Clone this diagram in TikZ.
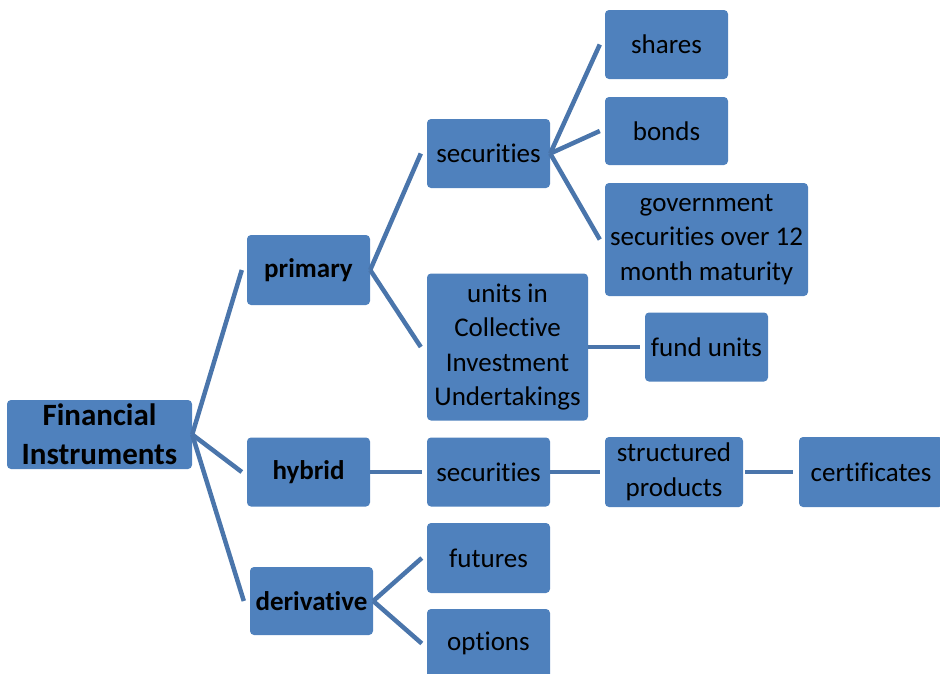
\documentclass[tikz,border=0pt]{standalone}
\usepackage{fontspec}
\setmainfont[Ligatures=NoCommon]{Carlito}
\usetikzlibrary{calc}
\definecolor{boxfill}{HTML}{4F81BD}
\definecolor{linkblue}{HTML}{4A75AB}
\begin{document}
\begin{tikzpicture}[x=1pt,y=-1pt,
  box/.style={fill=boxfill, rounded corners=4pt, inner sep=0pt, align=center,
    font=\fontsize{27}{34.5}\selectfont, text=black},
  head/.style={box, font=\fontsize{27}{34.5}\selectfont\bfseries},
  rootbox/.style={box, font=\fontsize{31}{39}\selectfont\bfseries},
  link/.style={draw=linkblue, line width=4.5pt}]
\useasboundingbox (0,0) rectangle (940,673);
\clip (0,0) rectangle (940,673);

% tree of boxes
\node[rootbox, minimum width=185pt, minimum height=69pt] (root) at (99.5,434.5) {Financial\\Instruments};

\node[head, minimum width=123pt, minimum height=70pt] (primary) at (308.5,270) {primary};
\node[head, minimum width=123pt, minimum height=69pt] (hybrid) at (308.5,472) {hybrid};
\node[head, minimum width=123pt, minimum height=68pt] (deriv) at (311.5,601) {derivative};

\node[box, minimum width=123pt, minimum height=69pt] (sec1) at (488.5,153.5) {securities};
\node[box, minimum width=161pt, minimum height=147pt] (units) at (507.5,347) {units in\\Collective\\Investment\\Undertakings};
\node[box, minimum width=123pt, minimum height=69pt] (sec2) at (488.5,472) {securities};
\node[box, minimum width=123pt, minimum height=70pt] (futures) at (488.5,558) {futures};
\node[box, minimum width=123pt, minimum height=69pt] (options) at (488.5,643.5) {options};

\node[box, minimum width=123pt, minimum height=69pt] (shares) at (666.5,44.5) {shares};
\node[box, minimum width=123pt, minimum height=68pt] (bonds) at (666.5,131) {bonds};
\node[box, minimum width=203pt, minimum height=113pt] (govt) at (706.5,239.5) {government\\securities over 12\\month maturity};
\node[box, minimum width=123pt, minimum height=69pt] (fund) at (706.5,347) {fund units};
\node[box, minimum width=138pt, minimum height=70pt] (struct) at (674,472) {structured\\products};
\node[box, minimum width=144pt, minimum height=70pt] (cert) at (871,472) {certificates};

% connectors
\draw[link] (root.east) -- ($(primary.west)+(-5,0)$);
\draw[link] (root.east) -- ($(hybrid.west)+(-5,0)$);
\draw[link] (root.east) -- ($(deriv.west)+(-6,0)$);

\draw[link] (primary.east) -- ($(sec1.west)+(-6,0)$);
\draw[link] (primary.east) -- ($(units.west)+(-6,0)$);

\draw[link] (sec1.east) -- ($(shares.west)+(-5,0)$);
\draw[link] (sec1.east) -- ($(bonds.west)+(-5,0)$);
\draw[link] (sec1.east) -- ($(govt.west)+(-5,0)$);

\draw[link] (units.east) -- ($(fund.west)+(-5,0)$);

\draw[link] (hybrid.east) -- ($(sec2.west)+(-5,0)$);
\draw[link] (sec2.east) -- ($(struct.west)+(-5,0)$);
\draw[link] ($(struct.east)+(2,0)$) -- ($(cert.west)+(-6,0)$);

\draw[link] (deriv.east) -- ($(futures.west)+(-5,0)$);
\draw[link] (deriv.east) -- ($(options.west)+(-5,0)$);
\end{tikzpicture}
\end{document}
